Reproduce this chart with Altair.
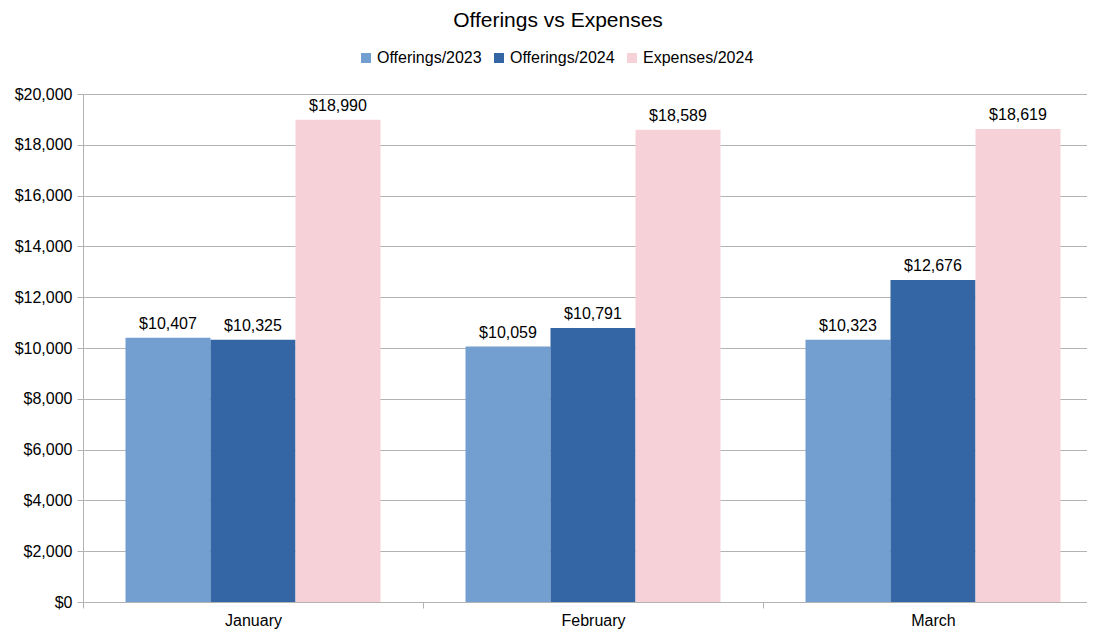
import altair as alt
import pandas as pd

months = ["January", "February", "March"]
series = ["Offerings/2023", "Offerings/2024", "Expenses/2024"]
off2023 = [10407, 10059, 10323]
off2024 = [10325, 10791, 12676]
exp2024 = [18990, 18589, 18619]
colors = ["#729fcf", "#3465a4", "#f7d1d8"]

rows = []
for s, vals in zip(series, [off2023, off2024, exp2024]):
    for m, v in zip(months, vals):
        rows.append({"month": m, "series": s, "value": v})
df = pd.DataFrame(rows)

FONT = "Liberation Sans"

x = alt.X("month:N", sort=months, title=None,
          scale=alt.Scale(range=[0, 1020], paddingInner=0, paddingOuter=0),
          axis=alt.Axis(labelAngle=0, tickBand="extent", tickSize=6, labelPadding=4,
                        labelFontSize=16, labelFont=FONT, labelColor="#000000",
                        domainColor="#b3b3b3", tickColor="#b3b3b3", grid=False))
xo = alt.XOffset("series:N", sort=series,
                 scale=alt.Scale(paddingInner=0, paddingOuter=0.5))
y = alt.Y("value:Q", title=None,
          scale=alt.Scale(domain=[0, 20000], nice=False),
          axis=alt.Axis(values=list(range(0, 20001, 2000)), format="$,d",
                        tickSize=6, labelPadding=5, labelFontSize=16, labelFont=FONT,
                        labelColor="#000000", domainColor="#b3b3b3", tickColor="#b3b3b3",
                        gridColor="#b3b3b3", domain=True))

bars = alt.Chart(df).mark_bar().encode(
    x=x, xOffset=xo, y=y,
    color=alt.Color("series:N", sort=series,
                    scale=alt.Scale(domain=series, range=colors),
                    legend=alt.Legend(title=None, orient="none", direction="horizontal",
                                      legendX=275, legendY=-44,
                                      symbolType="square", symbolSize=100,
                                      symbolStrokeWidth=0, labelFontSize=16,
                                      labelFont=FONT, labelColor="#000000",
                                      labelOffset=3, columnPadding=9))
)

labels = alt.Chart(df).mark_text(baseline="alphabetic", dy=-9, fontSize=16,
                                 font=FONT, color="#000000").encode(
    x=x, xOffset=xo, y=y,
    text=alt.Text("value:Q", format="$,d")
)

chart = alt.layer(bars, labels).properties(
    width=1004, height=508,
    title=alt.TitleParams("Offerings vs Expenses", fontSize=21, font=FONT,
                          fontWeight="normal", color="#000000", anchor="middle",
                          dx=-27, offset=19),
    autosize=alt.AutoSizeParams(type="none"),
    padding={"left": 75, "top": 86, "right": 0, "bottom": 30},
).configure_view(stroke=None)

chart.save("out.html", embed_options={"renderer": "svg", "actions": False})
